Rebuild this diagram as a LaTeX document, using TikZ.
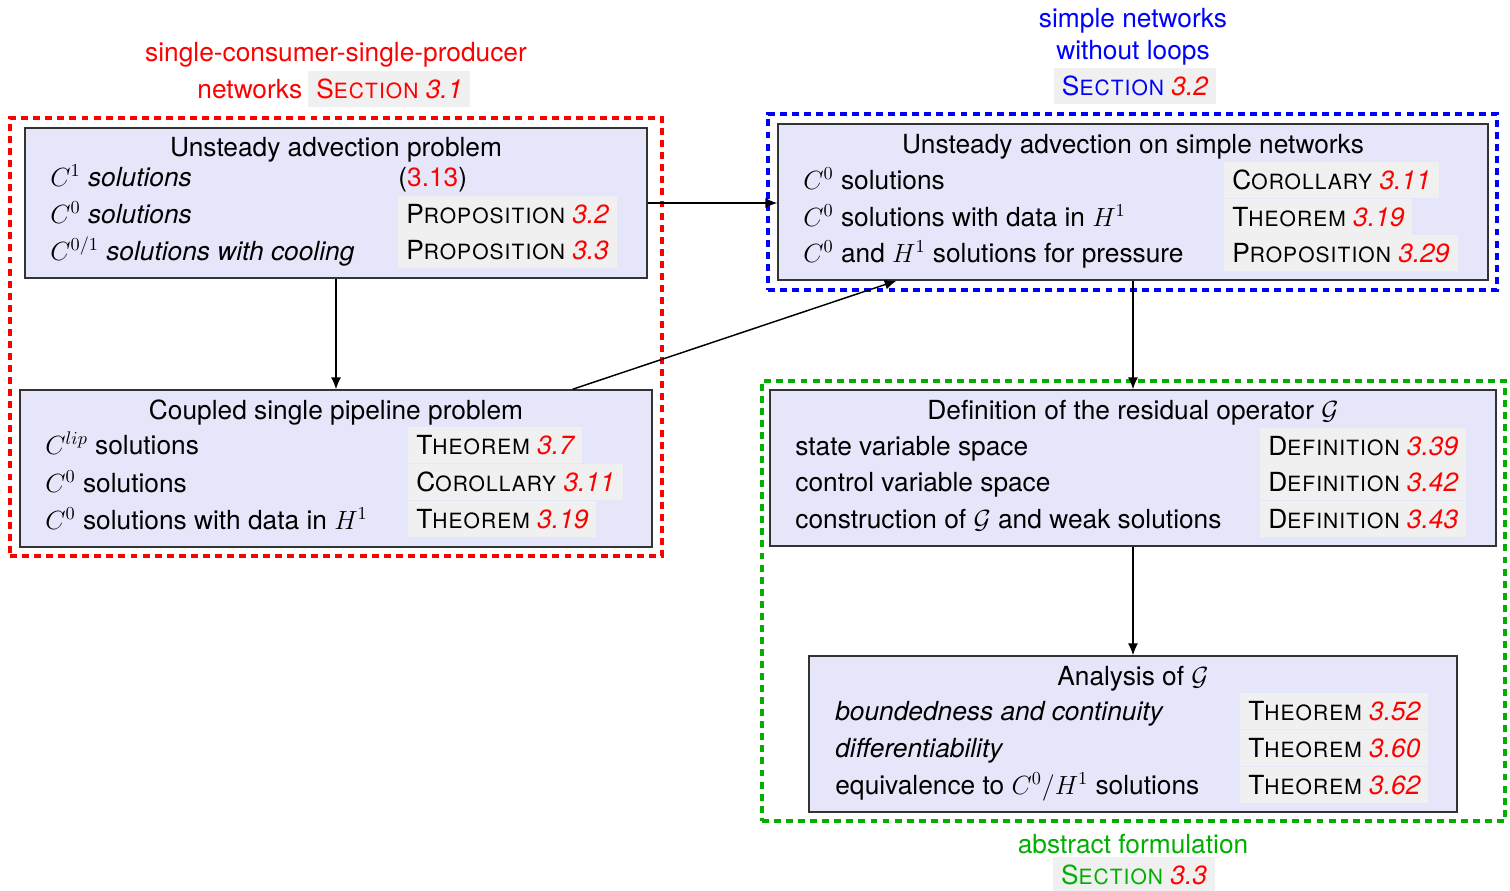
\documentclass[tikz,border=0pt]{standalone}
\usepackage{fontspec}
\setmainfont{TeX Gyre Heros}
\usetikzlibrary{arrows.meta,calc}
\definecolor{grn}{RGB}{0,175,0}
\definecolor{lav}{RGB}{230,230,250}
\definecolor{cellgray}{RGB}{240,240,240}
\newcommand\rnum[1]{\textcolor{red}{\itshape #1}}
\newcommand\fsc[2]{{\addfontfeature{LetterSpace=5}#1{\fontsize{11.5}{13}\selectfont #2}}}
\newcommand\refc[3]{\fsc{#1}{#2} \rnum{#3}}
\tikzset{
  sz/.style 2 args={minimum width=#1*0.5475pt, minimum height=#2*0.5475pt},
  box/.style={draw=black!80, line width=0.8pt, fill=lav, inner sep=0pt},
  cell/.style={anchor=west, fill=cellgray, inner xsep=4.4pt, inner ysep=0pt, minimum height=19.7pt, text height=14pt, text depth=3.6pt},
  txt/.style={anchor=west, inner sep=0pt, text height=14pt, text depth=3.6pt},
  ttl/.style={inner sep=0pt, text height=14pt, text depth=3.6pt},
  grp/.style={line width=2.2pt, dash pattern=on 3.8pt off 2.8pt, inner sep=0pt},
  arr/.style={-{Latex[length=6.5pt,width=5.5pt]}, line width=0.8pt}
}
\begin{document}
\begin{tikzpicture}[x=0.5475pt,y=-0.5475pt, font=\fontsize{14.4}{17}\selectfont]
\useasboundingbox (0,0) rectangle (1510,890);
% group frames
\node[grp, draw=red, sz={652}{438}] (g1) at (336,337) {};
\node[grp, draw=blue, sz={729}{176}] (g2) at (1132.5,202) {};
\node[grp, draw=grn, sz={743}{440}] (g3) at (1133.5,601) {};
% boxes
\node[box, sz={622}{150}] (b1) at (336,203) {};
\node[box, sz={632}{157}] (b2) at (336,468.5) {};
\node[box, sz={710}{156}] (b3) at (1133,202) {};
\node[box, sz={726}{156}] (b4) at (1133,468) {};
\node[box, sz={648}{156}] (b5) at (1133,734) {};
% arrows
\draw[arr] (b1.south) -- (b2.north);
\draw[arr] (b1.east) -- (b1.east -| b3.west);
\draw[arr] ($(b2.north west)!0.8734!(b2.north east)$) -- ($(b3.south west)!0.1676!(b3.south east)$);
\draw[arr] (b3.south) -- (b4.north);
\draw[arr] (b4.south) -- (b5.north);
% box 1
\node[ttl] (b1t) at (336,147) {Unsteady advection problem};
\node[txt] (b1l1) at (50,177) {$C^1$ \textit{solutions}};
\node[txt] (b1l2) at (50,214) {$C^0$ \textit{solutions}};
\node[txt] (b1l3) at (50,251) {$C^{0/1}$ \textit{solutions with cooling}};
\node[txt] (b1r1) at (398,177) {(\textcolor{red}{3.13})};
\node[cell] (b1r2) at (398,214) {\refc{P}{ROPOSITION}{3.2}};
\node[cell] (b1r3) at (398,250) {\refc{P}{ROPOSITION}{3.3}};
% box 2
\node[ttl] (b2t) at (336,410) {Coupled single pipeline problem};
\node[txt] (b2l1) at (45,445) {$C^{lip}$ solutions};
\node[txt] (b2l2) at (45,483) {$C^0$ solutions};
\node[txt] (b2l3) at (45,520) {$C^0$ solutions with data in $H^1$};
\node[cell] (b2r1) at (408,445) {\refc{T}{HEOREM}{3.7}};
\node[cell] (b2r2) at (408,482) {\refc{C}{OROLLARY}{3.11}};
\node[cell] (b2r3) at (408,519) {\refc{T}{HEOREM}{3.19}};
% box 3
\node[ttl] (b3t) at (1133,144) {Unsteady advection on simple networks};
\node[txt] (b3l1) at (803,180) {$C^0$ solutions};
\node[txt] (b3l2) at (803,217) {$C^0$ solutions with data in $H^1$};
\node[txt] (b3l3) at (803,253) {$C^0$ and $H^1$ solutions for pressure};
\node[cell] (b3r1) at (1224,180) {\refc{C}{OROLLARY}{3.11}};
\node[cell] (b3r2) at (1224,217) {\refc{T}{HEOREM}{3.19}};
\node[cell] (b3r3) at (1224,253) {\refc{P}{ROPOSITION}{3.29}};
% box 4
\node[ttl] (b4t) at (1133,410) {Definition of the residual operator $\mathcal{G}$};
\node[txt] (b4l1) at (795,446) {state variable space};
\node[txt] (b4l2) at (795,482) {control variable space};
\node[txt] (b4l3) at (795,519) {construction of $\mathcal{G}$ and weak solutions};
\node[cell] (b4r1) at (1260,446) {\refc{D}{EFINITION}{3.39}};
\node[cell] (b4r2) at (1260,482) {\refc{D}{EFINITION}{3.42}};
\node[cell] (b4r3) at (1260,519) {\refc{D}{EFINITION}{3.43}};
% box 5
\node[ttl] (b5t) at (1133,676) {Analysis of $\mathcal{G}$};
\node[txt] (b5l1) at (835,711) {\textit{boundedness and continuity}};
\node[txt] (b5l2) at (835,748) {\textit{differentiability}};
\node[txt] (b5l3) at (835,785) {equivalence to $C^0/H^1$ solutions};
\node[cell] (b5r1) at (1240,711) {\refc{T}{HEOREM}{3.52}};
\node[cell] (b5r2) at (1240,748) {\refc{T}{HEOREM}{3.60}};
\node[cell] (b5r3) at (1240,785) {\refc{T}{HEOREM}{3.62}};
% group titles
\node[ttl, text=red] (t1a) at (336,52) {single-consumer-single-producer};
\node[cell, text=red] (t1s) at (308,89) {\fsc{S}{ECTION} \rnum{3.1}};
\node[ttl, text=red, anchor=east] (t1b) at ([xshift=-3pt]t1s.west) {networks};
\node[ttl, text=blue] (t2a) at (1133,18) {simple networks};
\node[ttl, text=blue] (t2b) at (1133,50) {without loops};
\node[cell, anchor=center, text=blue] (t2s) at (1135,86) {\fsc{S}{ECTION} \rnum{3.2}};
\node[ttl, text=grn] (t3a) at (1133,844) {abstract formulation};
\node[cell, anchor=center, text=grn] (t3s) at (1134,875) {\fsc{S}{ECTION} \rnum{3.3}};
\end{tikzpicture}
\end{document}
